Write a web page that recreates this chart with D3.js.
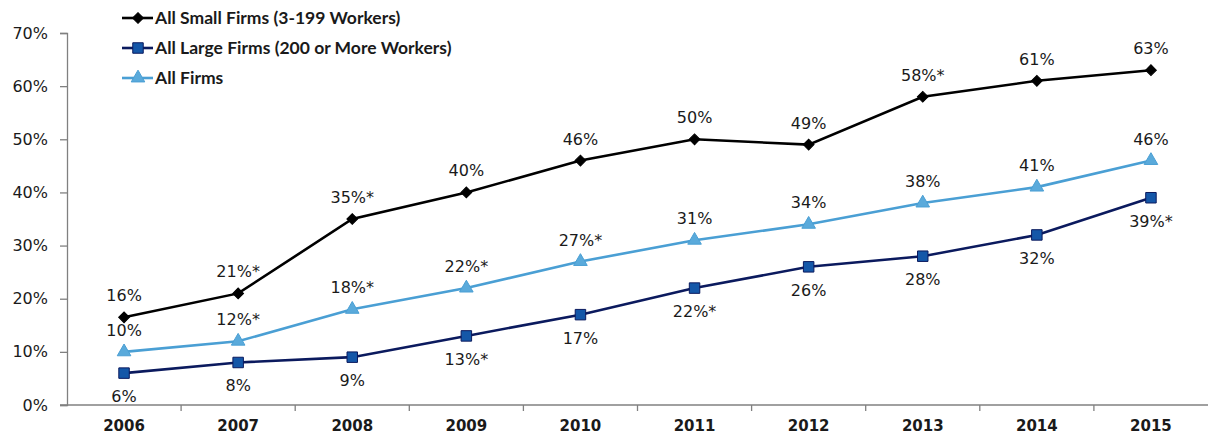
<!DOCTYPE html>
<html>
<head>
<meta charset="utf-8">
<script src="https://cdn.jsdelivr.net/npm/d3@7"></script>
<style>
  body { margin: 0; background: #fff; }
  text { font-family: "DejaVu Sans", sans-serif; fill: #1a1a1a; }
</style>
</head>
<body>
<div id="chart"></div>
<script>
// data
var years = ["2006", "2007", "2008", "2009", "2010", "2011", "2012", "2013", "2014", "2015"];
var smallFirms = [16.5, 21, 35, 40, 46, 50, 49, 58, 61, 63];
var largeFirms = [6, 8, 9, 13, 17, 22, 26, 28, 32, 39];
var allFirms = [10, 12, 18, 22, 27, 31, 34, 38, 41, 46];
var smallLabels = ["16%", "21%*", "35%*", "40%", "46%", "50%", "49%", "58%*", "61%", "63%"];
var largeLabels = ["6%", "8%", "9%", "13%*", "17%", "22%*", "26%", "28%", "32%", "39%*"];
var allLabels = ["10%", "12%*", "18%*", "22%*", "27%*", "31%", "34%", "38%", "41%", "46%"];
var yTicks = [0, 10, 20, 30, 40, 50, 60, 70];

var svgWidth = 1208, svgHeight = 437;
var margin = { top: 33, right: 0, bottom: 32, left: 67 };
var chartWidth = svgWidth - margin.left - margin.right;
var chartHeight = svgHeight - margin.top - margin.bottom;

var svg = d3.select("#chart").append("svg")
  .attr("width", svgWidth)
  .attr("height", svgHeight);

var chartGroup = svg.append("g")
  .attr("transform", `translate(${margin.left}, ${margin.top})`);

var xScale = d3.scaleBand()
  .domain(years)
  .range([0, chartWidth]);

var yScale = d3.scaleLinear()
  .domain([0, 70])
  .range([chartHeight, 0]);

// y axis
var yAxis = d3.axisLeft(yScale)
  .tickValues(yTicks)
  .tickSize(7)
  .tickPadding(12)
  .tickFormat(d => d + "%");

var yG = chartGroup.append("g").call(yAxis);
yG.select(".domain").attr("stroke", "#808080").attr("stroke-width", 1.3);
yG.selectAll(".tick line").attr("stroke", "#808080").attr("stroke-width", 1.3);
yG.selectAll(".tick text")
  .style("font-size", "16px")
  .style("font-family", "DejaVu Sans, sans-serif")
  .attr("fill", "#1a1a1a");

// x axis: ticks sit between the categories
var xG = chartGroup.append("g")
  .attr("transform", `translate(0, ${chartHeight})`);

xG.append("line")
  .attr("x1", -7).attr("x2", chartWidth)
  .attr("y1", 0).attr("y2", 0)
  .attr("stroke", "#808080").attr("stroke-width", 1.3);

xG.selectAll(".xtick")
  .data(years.slice(1))
  .enter()
  .append("line")
  .attr("class", "xtick")
  .attr("x1", d => xScale(d)).attr("x2", d => xScale(d))
  .attr("y1", 0).attr("y2", 6)
  .attr("stroke", "#808080").attr("stroke-width", 1.3);

xG.selectAll(".xlabel")
  .data(years)
  .enter()
  .append("text")
  .attr("class", "xlabel")
  .attr("x", d => xScale(d) + xScale.bandwidth() / 2)
  .attr("y", 26)
  .attr("text-anchor", "middle")
  .style("font-size", "15px")
  .style("font-weight", "bold")
  .text(d => d);

var cx = d => xScale(d) + xScale.bandwidth() / 2;

var series = [
  { name: "All Small Firms (3-199 Workers)", values: smallFirms, labels: smallLabels,
    line: "#000000", fill: "#000000", stroke: "#000000", shape: d3.symbolSquare, size: 58, rot: 45, dy: -16 },
  { name: "All Large Firms (200 or More Workers)", values: largeFirms, labels: largeLabels,
    line: "#0b1a5e", fill: "#1457a8", stroke: "#0b1a5e", shape: d3.symbolSquare, size: 110, rot: 0, dy: 29 },
  { name: "All Firms", values: allFirms, labels: allLabels,
    line: "#4a9fd4", fill: "#5aaadb", stroke: "#4a9fd4", shape: d3.symbolTriangle, size: 80, rot: 0, dy: -16 }
];

// draw order: all firms, large, small on top
[series[2], series[1], series[0]].forEach(function(s) {
  var pts = years.map((y, i) => ({ year: y, value: s.values[i], label: s.labels[i] }));

  var line = d3.line()
    .x(d => cx(d.year))
    .y(d => yScale(d.value));

  chartGroup.append("path")
    .datum(pts)
    .attr("fill", "none")
    .attr("stroke", s.line)
    .attr("stroke-width", 2.6)
    .attr("d", line);

  chartGroup.selectAll(null)
    .data(pts)
    .enter()
    .append("path")
    .attr("transform", d => `translate(${cx(d.year)}, ${yScale(d.value)}) rotate(${s.rot})`)
    .attr("d", d3.symbol().type(s.shape).size(s.size))
    .attr("fill", s.fill)
    .attr("stroke", s.stroke)
    .attr("stroke-width", 1);

  chartGroup.selectAll(null)
    .data(pts)
    .enter()
    .append("text")
    .attr("x", d => cx(d.year))
    .attr("y", d => yScale(d.value) + s.dy)
    .attr("text-anchor", "middle")
    .style("font-size", "16px")
    .text(d => d.label);
});

// legend
var legend = svg.append("g")
  .attr("transform", "translate(122, 18)");

series.forEach(function(s, i) {
  var row = legend.append("g")
    .attr("transform", `translate(0, ${i * 30})`);
  row.append("line")
    .attr("x1", 0).attr("x2", 31)
    .attr("y1", 0).attr("y2", 0)
    .attr("stroke", s.line)
    .attr("stroke-width", 2.6);
  row.append("path")
    .attr("transform", `translate(16, 0) rotate(${s.rot})`)
    .attr("d", d3.symbol().type(s.shape).size(s.size))
    .attr("fill", s.fill)
    .attr("stroke", s.stroke);
  row.append("text")
    .attr("x", 33)
    .attr("y", 6)
    .style("font-family", "Lato, sans-serif")
    .style("font-size", "17.5px")
    .style("font-weight", "bold")
    .text(s.name);
});
</script>
</body>
</html>
